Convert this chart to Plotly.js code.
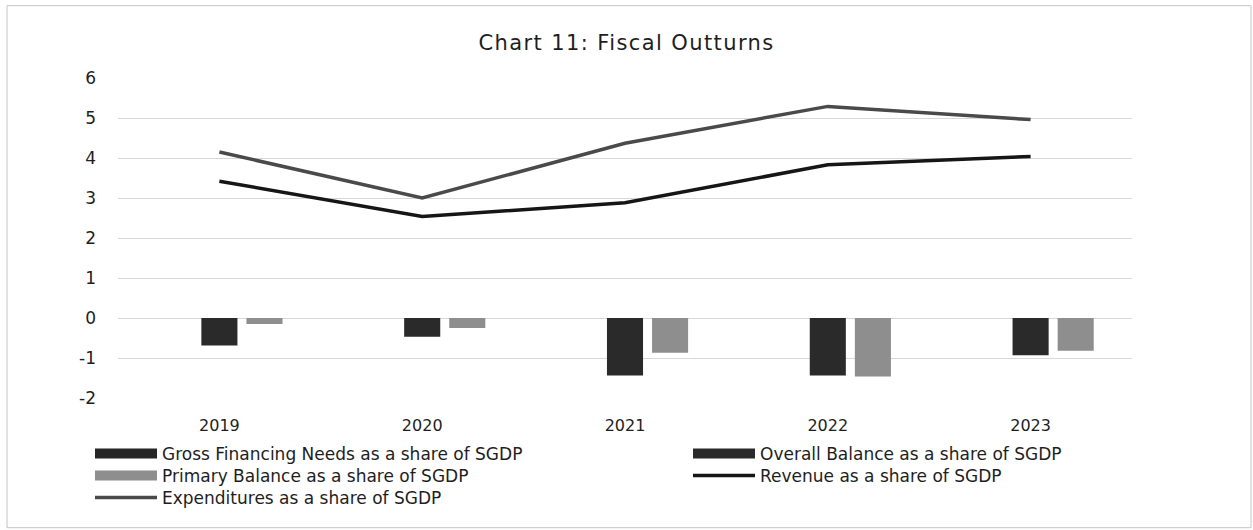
<!DOCTYPE html>
<html>
<head>
<meta charset="utf-8">
<script src="https://cdn.plot.ly/plotly-3.0.1.min.js"></script>
<style>
html,body{margin:0;padding:0;background:#fff;}
#chart{width:1253px;height:530px;}
text.gtitle{letter-spacing:1.4px !important;}
</style>
</head>
<body>
<div id="chart"></div>
<script>
const years = ['2019', '2020', '2021', '2022', '2023'];
const grossFinancingNeeds = [null, null, null, null, null];
const overallBalance = [-0.69, -0.47, -1.44, -1.44, -0.93];
const primaryBalance = [-0.15, -0.25, -0.87, -1.46, -0.82];
const revenue = [3.42, 2.54, 2.88, 3.83, 4.04];
const expenditures = [4.15, 3.0, 4.37, 5.29, 4.96];
const seriesNames = [
  'Gross Financing Needs as a share of SGDP',
  'Overall Balance as a share of SGDP',
  'Primary Balance as a share of SGDP',
  'Revenue as a share of SGDP',
  'Expenditures as a share of SGDP'
];
const yTicks = [-2, -1, 0, 1, 2, 3, 4, 5, 6];

const FONT = 'DejaVu Sans, Open Sans, sans-serif';
const TXT = '#1e1e1e';
const C_GFN = '#262626', C_OB = '#2a2a2a', C_PB = '#8e8e8e', C_REV = '#161616', C_EXP = '#4a4a4a';

// legend swatches for the bar series (wide rectangles, as in the original legend)
function swatch(name, color, legendId){
  return {type: 'scatter', mode: 'lines', name: name, x: [null], y: [null], legend: legendId,
          line: {color: color, width: 10}, hoverinfo: 'skip', showlegend: true};
}

const traces = [
  {type: 'bar', name: seriesNames[0], x: years, y: grossFinancingNeeds, marker: {color: C_GFN}, showlegend: false},
  {type: 'bar', name: seriesNames[1], x: years, y: overallBalance, marker: {color: C_OB}, showlegend: false},
  {type: 'bar', name: seriesNames[2], x: years, y: primaryBalance, marker: {color: C_PB}, showlegend: false},
  swatch(seriesNames[0], C_GFN, 'legend'),
  swatch(seriesNames[1], C_OB, 'legend2'),
  swatch(seriesNames[2], C_PB, 'legend3'),
  {type: 'scatter', mode: 'lines', name: seriesNames[3], x: years, y: revenue,
   line: {color: C_REV, width: 3.5}, legend: 'legend4'},
  {type: 'scatter', mode: 'lines', name: seriesNames[4], x: years, y: expenditures,
   line: {color: C_EXP, width: 3.5}, legend: 'legend5'}
];

const L = 118, R = 1132, T = 78.3, B = 398.3;
const W = R - L, H = B - T;
function px(v){ return (v - L) / W; }
function py(v){ return (B - v) / H; }

const legendFont = {family: FONT, size: 17, color: TXT};
function legendAt(xPix, yPix){
  return {orientation: 'v', xref: 'container', yref: 'container', xanchor: 'left', yanchor: 'middle',
          x: xPix / 1253, y: 1 - yPix / 530,
          itemwidth: 62, tracegroupgap: 0, font: legendFont, bgcolor: 'rgba(0,0,0,0)', borderwidth: 0};
}

const layout = {
  width: 1253, height: 530,
  margin: {l: L, r: 1253 - R, t: T, b: 530 - B, autoexpand: false},
  paper_bgcolor: '#ffffff', plot_bgcolor: '#ffffff',
  font: {family: FONT, color: TXT, size: 16},
  title: {text: 'Chart 11: Fiscal Outturns', x: 0.5, xanchor: 'center', y: 1 - 43/530, yanchor: 'middle',
          font: {family: FONT, size: 21, color: TXT}},
  barmode: 'group', bargap: 0.333, bargroupgap: 0.2,
  xaxis: {type: 'category', showgrid: false, zeroline: false, showline: false, ticks: '', tickangle: 0,
          tickfont: {family: FONT, size: 16, color: TXT}, ticklabelstandoff: 16},
  yaxis: {range: [-2, 6], tickvals: yTicks, ticktext: yTicks.map(String), showgrid: true, gridcolor: '#d8d8d8', gridwidth: 1,
          zeroline: false, showline: false, ticks: '', ticklabelstandoff: 21,
          tickfont: {family: FONT, size: 17, color: TXT}},
  showlegend: true,
  legend: legendAt(90, 454),
  legend2: legendAt(688, 454),
  legend3: legendAt(90, 476),
  legend4: legendAt(688, 476),
  legend5: legendAt(90, 498),
  shapes: [
    {type: 'rect', xref: 'paper', yref: 'paper', x0: px(7), x1: px(1251), y0: py(528), y1: py(6),
     line: {color: '#c4c4c4', width: 1}, fillcolor: 'rgba(0,0,0,0)', layer: 'below'}
  ]
};

Plotly.newPlot('chart', traces, layout, {staticPlot: true, displayModeBar: false});
</script>
</body>
</html>
